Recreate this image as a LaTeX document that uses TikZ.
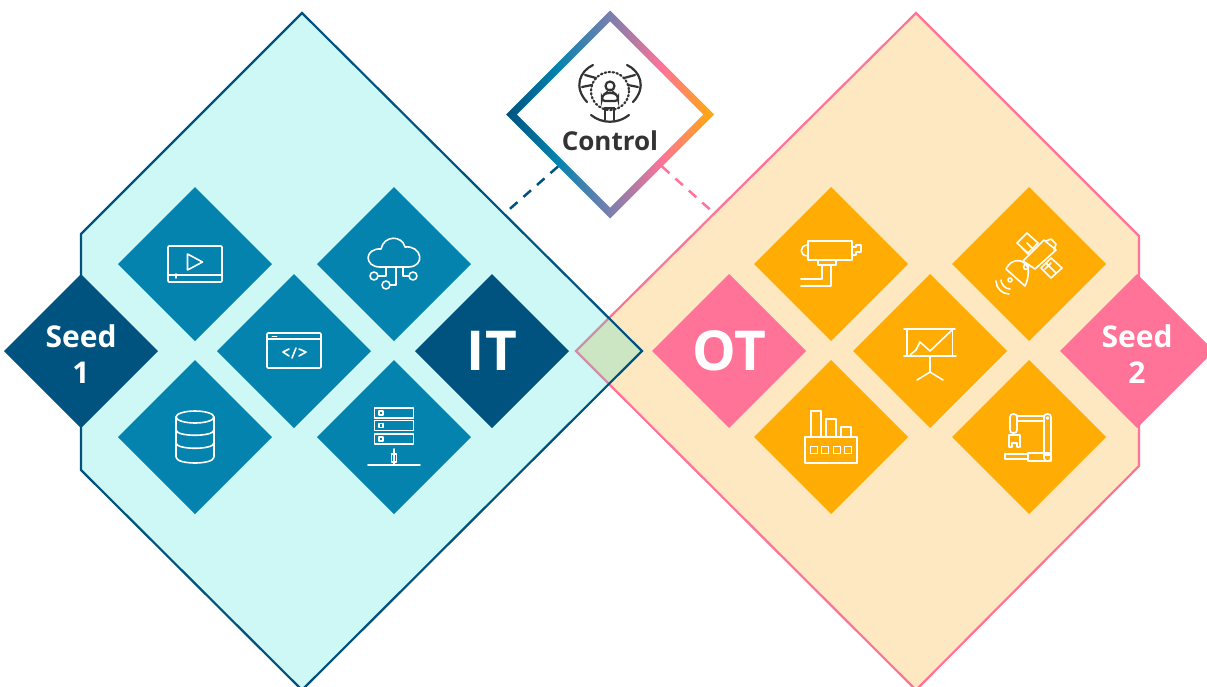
\documentclass[tikz,border=0pt]{standalone}
\usepackage{fontspec}
\setmainfont{Open Sans}
\usetikzlibrary{shapes.geometric}
\definecolor{itdark}{HTML}{00527F}
\definecolor{itmid}{HTML}{0583AF}
\definecolor{itpale}{HTML}{CDF8F6}
\definecolor{otpink}{HTML}{FF7398}
\definecolor{otamber}{HTML}{FFAD05}
\definecolor{otpale}{HTML}{FDE8C1}
\definecolor{overlapfill}{HTML}{CCE6C4}
\definecolor{overlapedge}{HTML}{CF8FA8}
\definecolor{ctrlink}{HTML}{333333}
\definecolor{ctrlmid}{HTML}{7B7FAE}
\pgfdeclarehorizontalshading{ctrlgrad}{100bp}{color(0bp)=(itdark); color(25bp)=(itdark); color(37.5bp)=(itmid); color(50bp)=(ctrlmid); color(62.5bp)=(otpink); color(75bp)=(otamber); color(100bp)=(otamber)}
\begin{document}
\begin{tikzpicture}[x=1pt,y=-1pt,
	tile/.style={shape=diamond,aspect=1,inner sep=0pt,outer sep=0pt,minimum width=154pt,minimum height=154pt},
	seedtext/.style={text=white,inner sep=0pt,font=\bfseries\fontsize{30}{36}\selectfont,align=center},
	bigtext/.style={tile,text=white,font=\bfseries\fontsize{55}{60}\selectfont},
	icon/.style={draw=white,line width=1.6pt,line join=round,line cap=round},
	ctrlicon/.style={draw=ctrlink,line width=2.2pt,line cap=round},
	link/.style={line width=2.5pt,dash pattern=on 10pt off 8pt}]
\useasboundingbox (0,0) rectangle (1207,686);
\clip (0,0) rectangle (1207,686);
\fill[itpale] (302,13) -- (642,351) -- (302,690) -- (81,470) -- (81,234) -- cycle;
\fill[otpale] (916,13) -- (576,351) -- (916,690) -- (1139,466) -- (1139,236) -- cycle;
\fill[overlapfill] (609,318) -- (642,351) -- (609,384) -- (576,351) -- cycle;
\draw[otpink,line width=2.2pt] (609,318) -- (916,13) -- (1139,236) -- (1139,466) -- (916,690) -- (609,384);
\draw[overlapedge,line width=2.2pt] (609,318) -- (576,351) -- (609,384);
\draw[itdark,line width=2.2pt] (302,13) -- (642,351) -- (302,690) -- (81,470) -- (81,234) -- cycle;
\coordinate (itjoin) at (504,214);
\coordinate (otjoin) at (715,214);
\node[tile,shading=ctrlgrad,minimum width=208pt,minimum height=208pt] (ctrlring) at (610,114.5) {};
\node[tile,fill=white,minimum width=186pt,minimum height=186pt] (control) at (610,114.5) {};
\draw[link,itdark] (ctrlring.south west) -- (itjoin);
\draw[link,otpink] (ctrlring.south east) -- (otjoin);
\node[text=ctrlink,font=\bfseries\fontsize{26}{30}\selectfont,inner sep=0pt] (controltext) at (610,141) {Control};
\foreach \x/\y/\tilename in {195/264/video,394/264/cloud,294/351/code,195/437/data,394/437/server}
	\node[tile,fill=itmid] (\tilename) at (\x,\y) {};
\foreach \x/\y/\tilename in {831/264/camera,1029/264/satellite,930/351/chart,831/437/factory,1029/437/robot}
	\node[tile,fill=otamber] (\tilename) at (\x,\y) {};
\node[tile,fill=itdark] (seedone) at (81,351) {};
\node[tile,fill=otpink] (seedtwo) at (1137,351) {};
\node[seedtext] (seedonetext) at (81,354) {Seed\\1};
\node[seedtext] (seedtwotext) at (1137,354) {Seed\\2};
\node[bigtext,fill=itdark] (it) at (492,351) {IT};
\node[bigtext,fill=otpink] (ot) at (729,351) {OT};
\begin{scope}[shift={(610,114)}]
\draw[ctrlicon,dash pattern=on 1.5pt off 2.5pt] (0,-23) circle (19);
\draw[ctrlicon] (0,-28) circle (4.5);
\draw[ctrlicon,rounded corners=3pt] (-8,-13) -- (-8,-18) -- (-4,-21) -- (4,-21) -- (8,-18) -- (8,-13) -- cycle;
\foreach \s in {-1,1}
	\draw[ctrlicon,xscale=\s] (-17,-49) .. controls (-30,-43) and (-37,-27) .. (-23,-12)
		(-25,-39) -- (-14,-36) (-28,-27) -- (-18,-29);
\draw[ctrlicon] (-19,1) .. controls (-8,10) and (8,10) .. (19,1);
\draw[ctrlicon] (-5,6) -- (-5,-6) -- (4,-6) -- (4,6);
\end{scope}
\begin{scope}[shift={(195,264)}]
\draw[icon,rounded corners=1pt] (-27,-18) rectangle (27,18);
\draw[icon] (-27,11) -- (27,11) (-19,10) -- (-19,14);
\draw[icon] (-7.5,-10) -- (7.5,-2) -- (-7.5,6) -- cycle;
\end{scope}
\begin{scope}[shift={(394,264)}]
\draw[icon] (-14,3) .. controls (-30,3) and (-30,-16) .. (-13,-15)
	.. controls (-10,-29) and (8,-29) .. (11,-17)
	.. controls (28,-19) and (32,3) .. (14,3) -- cycle;
\draw[icon] (-20,12) circle (4) (-8,21) circle (4) (19,12) circle (4);
\draw[icon] (-8,3) -- (-8,12) -- (-16,12) (2,3) -- (2,21) -- (-4,21) (9,3) -- (9,12) -- (15,12);
\end{scope}
\begin{scope}[shift={(294,351)}]
\draw[icon,rounded corners=1pt] (-27,-18) rectangle (27,17);
\draw[icon] (-27,-12) -- (27,-12);
\draw[icon,line width=.8pt] (-22,-15) -- (-17,-15);
\draw[icon] (-5,-2) -- (-11,1) -- (-5,5) (2,-3) -- (-2,7) (5,-2) -- (12,1) -- (5,5);
\end{scope}
\begin{scope}[shift={(195,437)}]
\draw[icon] (0,-20) ellipse (19 and 6);
\draw[icon] (-19,-20) -- (-19,20) .. controls (-19,28) and (19,28) .. (19,20) -- (19,-20);
\draw[icon] (-19,-7) .. controls (-19,0) and (19,0) .. (19,-7);
\draw[icon] (-19,6) .. controls (-19,13) and (19,13) .. (19,6);
\end{scope}
\begin{scope}[shift={(394,437)}]
\foreach \y in {-29,-16.5,-3}
	\draw[icon] (-19.5,\y) rectangle (19.5,\y+10) (-15,\y+3) rectangle (-11,\y+7);
\draw[icon] (0,12) -- (0,28) (-26,28) -- (26,28);
\draw[icon] (-2.5,17) rectangle (2.5,25);
\end{scope}
\begin{scope}[shift={(831,264)}]
\draw[icon] (-23,-23) rectangle (21,-4);
\draw[icon] (-23,-19) .. controls (-32,-19) and (-32,-8) .. (-23,-8);
\draw[icon] (21,-17) -- (25,-17) -- (25,-19) -- (30,-19) -- (30,-12) -- (25,-12) -- (25,-9) -- (21,-9);
\draw[icon] (-13,-4) rectangle (5,1);
\draw[icon] (-9,1) -- (-9,15) -- (-30,15) (0,1) -- (0,22) -- (-30,22);
\end{scope}
\begin{scope}[shift={(1029,264)}]
\draw[icon] (-6,-3) -- (15,-24) -- (27,-14) -- (6,5) -- cycle;
\draw[icon] (-2,-31) -- (9,-21) -- (-1,-11) -- (-12,-21) -- cycle;
\draw[icon] (22,-6) -- (33,4) -- (22,14) -- (12,4) -- cycle;
\draw[icon] (-2,-21) -- (4,-15) (-7,-16) -- (-1,-10) (17,-1) -- (27,9) (22,-1) -- (16,5);
\draw[icon] (17,-23) -- (22,-25) -- (27,-20) -- (25,-14);
\draw[icon] (-23,5) .. controls (-18,-6) and (-5,-6) .. (-1,4) .. controls (0,12) and (-2,18) .. (-4,22) -- cycle;
\draw[icon] (-3,3) circle (2.5) (-19,16) circle (2);
\draw[icon] (-33,17) .. controls (-33,24) and (-27,30) .. (-20,30);
\draw[icon] (-28,16) .. controls (-28,20) and (-24,25) .. (-19,25);
\end{scope}
\begin{scope}[shift={(930,351)}]
\draw[icon] (-26,-22) -- (25,-22) (-26,5) -- (26,5);
\draw[icon] (-23,5) -- (-23,-22) (22.5,-22) -- (22.5,5);
\draw[icon] (0,5) -- (0,21) (-13,29) -- (0,21) -- (13,29);
\draw[icon] (-20,4) -- (-14,-1) -- (-10,-9) -- (0,0) -- (22,-21);
\end{scope}
\begin{scope}[shift={(831,437)}]
\draw[icon] (-26,0) rectangle (26,26);
\draw[icon] (-20,0) rectangle (-10,-26) (-5,0) rectangle (5,-18) (10,0) rectangle (20,-10);
\foreach \x in {-17,-6,6,17}
	\draw[icon] (\x-3.5,9.5) rectangle (\x+3.5,16.5);
\end{scope}
\begin{scope}[shift={(1029,437)}]
\draw[icon,rounded corners=3pt] (15,24) -- (15,-23) -- (22,-23) -- (22,24) -- cycle;
\draw[icon] (18.5,-19) circle (1);
\draw[icon] (-12,-21) -- (15,-21) (-12,-16) -- (15,-16);
\draw[icon,rounded corners=3pt] (-19,-4) -- (-19,-23) -- (-12,-23) -- (-12,-4) -- cycle;
\draw[icon] (-20,-2) -- (-9,-2) -- (-9,10) -- (-12,10) -- (-12,6) -- (-17,6) -- (-17,10) -- (-20,10) -- cycle;
\draw[icon] (-1,16) rectangle (22,24);
\draw[icon] (-24,17) rectangle (-1,22);
\draw[icon] (15,18) -- (22,18);
\end{scope}
\end{tikzpicture}
\end{document}
